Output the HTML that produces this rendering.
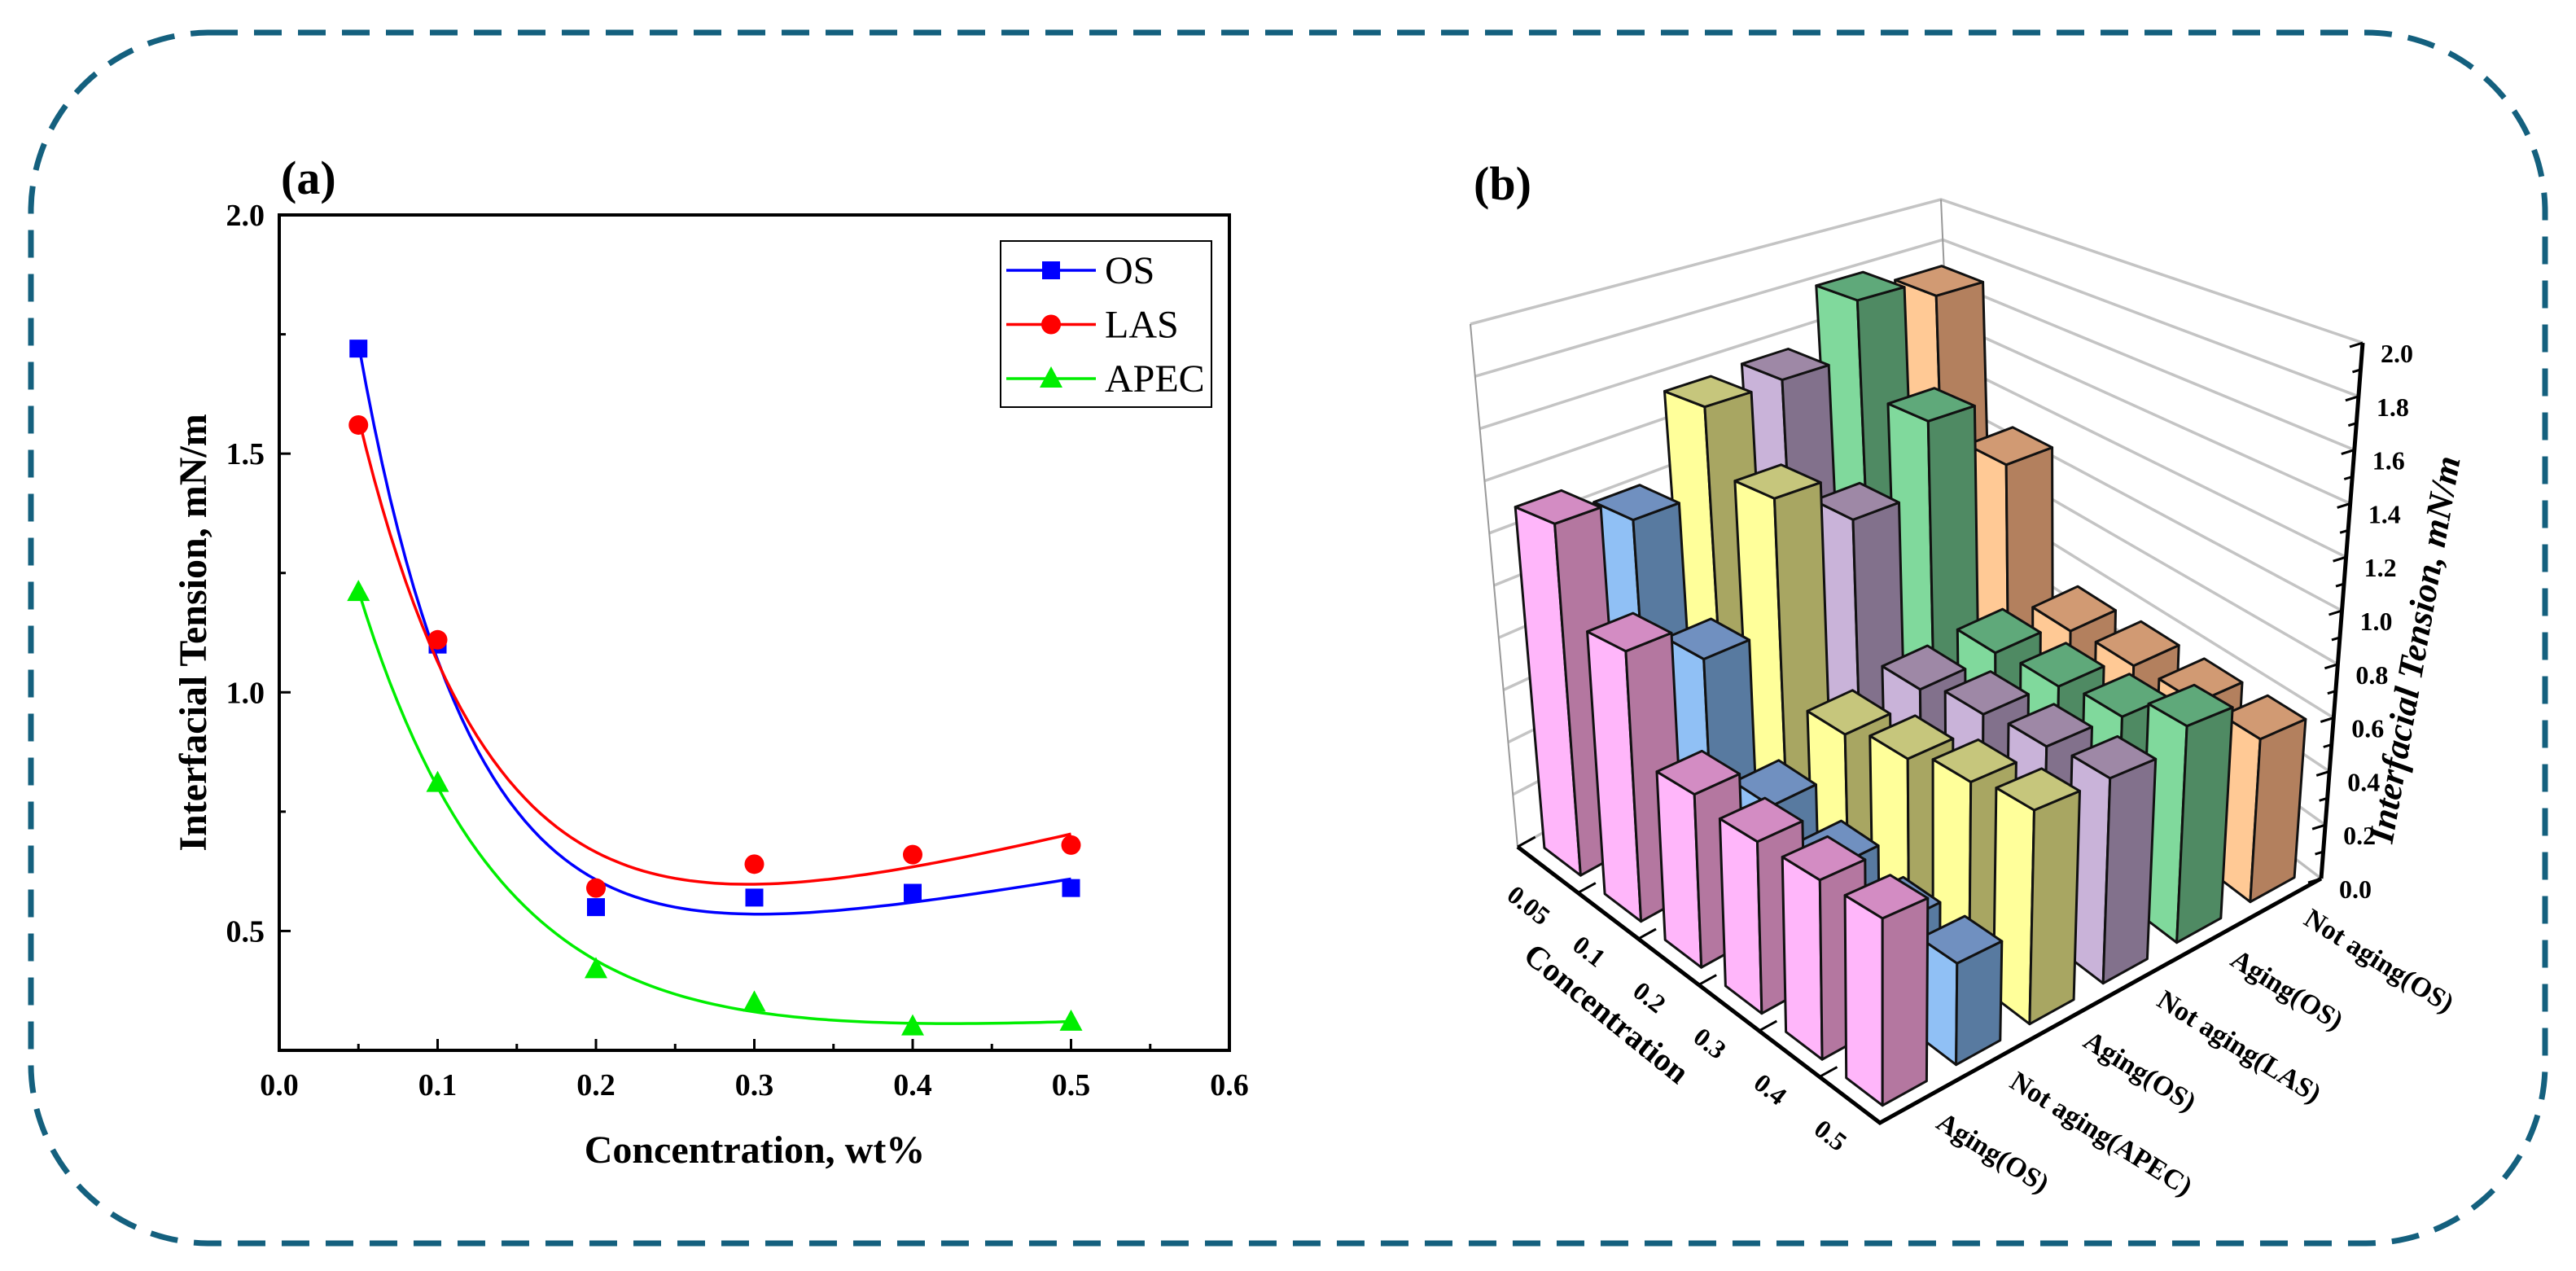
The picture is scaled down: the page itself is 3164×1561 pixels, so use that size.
<!DOCTYPE html>
<html><head><meta charset="utf-8"><style>
html,body{margin:0;padding:0;background:#fff;}
svg{display:block;}
text{font-family:"Liberation Serif",serif;}
</style></head><body>
<svg id="root" width="3164" height="1561" viewBox="0 0 3164 1561" xmlns="http://www.w3.org/2000/svg">
<rect x="38" y="40" width="3088" height="1487" rx="220" ry="220" fill="none" stroke="#14607e" stroke-width="7" stroke-dasharray="34 20"/>
<g id="chartA"></g>
<g id="chartB"></g>
</svg>
<script>
// ---------- Panel (a) data ----------
const concA = [0.05, 0.1, 0.2, 0.3, 0.4, 0.5];
const osVals = [1.72, 1.10, 0.55, 0.57, 0.58, 0.59];
const lasVals = [1.56, 1.11, 0.59, 0.64, 0.66, 0.68];
const apecVals = [1.21, 0.81, 0.42, 0.35, 0.30, 0.31];
const xTicksA = ["0.0","0.1","0.2","0.3","0.4","0.5","0.6"];
const yTicksA = ["0.5","1.0","1.5","2.0"];
const seriesNamesA = ["OS","LAS","APEC"];

// ---------- Panel (b) data ----------
const concB = ["0.05","0.1","0.2","0.3","0.4","0.5"];
const seriesB = ["Aging(OS)","Not aging(APEC)","Aging(OS)","Not aging(LAS)","Aging(OS)","Not aging(OS)"];
const agingOS1 = [1.30, 0.95, 0.58, 0.55, 0.55, 0.55];
const notAgingAPEC = [1.21, 0.81, 0.42, 0.35, 0.30, 0.31];
const agingOS2 = [1.55, 1.30, 0.55, 0.60, 0.65, 0.68];
const notAgingLAS = [1.56, 1.11, 0.59, 0.64, 0.66, 0.68];
const agingOS3 = [1.80, 1.40, 0.60, 0.62, 0.65, 0.75];
const notAgingOS = [1.72, 1.10, 0.55, 0.57, 0.58, 0.59];
const zTicksB = ["0.0","0.2","0.4","0.6","0.8","1.0","1.2","1.4","1.6","1.8","2.0"];

const NS = "http://www.w3.org/2000/svg";
function mk(tag, attrs, parent){
  const e = document.createElementNS(NS, tag);
  for (const k in attrs) e.setAttribute(k, attrs[k]);
  parent.appendChild(e);
  return e;
}

// ================= Panel A =================
(function(){
  const g = document.getElementById('chartA');
  const X0=343, X1=1510, Y0=264, Y1=1290;
  const xmin=0, xmax=0.6, ymin=0.25, ymax=2.0;
  const sx = v => X0 + (v-xmin)/(xmax-xmin)*(X1-X0);
  const sy = v => Y1 - (v-ymin)/(ymax-ymin)*(Y1-Y0);

  const lab = mk('text',{x:345,y:238,'font-size':58,'font-weight':'bold'},g);
  lab.textContent='(a)';
  
  

  const frame = mk('rect',{x:X0,y:Y0,width:X1-X0,height:Y1-Y0,fill:'none',stroke:'#000','stroke-width':4},g);
  
  

  for (let i=0;i<=12;i++){
    const v=i*0.05, x=sx(v), major=(i%2===0);
    const t=mk('line',{x1:x,y1:Y1,x2:x,y2:Y1-(major?14:8),stroke:'#000','stroke-width':3},g);
    
    
  }
  xTicksA.forEach(s=>{
    const t=mk('text',{x:sx(parseFloat(s)),y:1345,'font-size':38,'font-weight':'bold','text-anchor':'middle'},g);
    t.textContent=s;
    
    
  });
  for (let i=0;i<=7;i++){
    const v=0.25+i*0.25, y=sy(v), major=(i%2===1);
    const t=mk('line',{x1:X0,y1:y,x2:X0+(major?14:8),y2:y,stroke:'#000','stroke-width':3},g);
    
    
  }
  yTicksA.forEach(s=>{
    const t=mk('text',{x:325,y:sy(parseFloat(s))+13,'font-size':38,'font-weight':'bold','text-anchor':'end'},g);
    t.textContent=s;
    
    
  });
  const xt=mk('text',{x:927,y:1428,'font-size':48,'font-weight':'bold','text-anchor':'middle'},g);
  xt.textContent='Concentration, wt%';
  
  
  const yt=mk('text',{x:0,y:0,'font-size':48,'font-weight':'bold','text-anchor':'middle',transform:'translate(253,777) rotate(-90)'},g);
  yt.textContent='Interfacial Tension, mN/m';
  
  

  function solve3(A,b){
    const M=A.map((r,i)=>r.concat([b[i]]));
    for(let i=0;i<3;i++){
      let p=i; for(let r=i+1;r<3;r++) if(Math.abs(M[r][i])>Math.abs(M[p][i])) p=r;
      [M[i],M[p]]=[M[p],M[i]];
      for(let r=0;r<3;r++){ if(r===i) continue; const f=M[r][i]/M[i][i]; for(let c=i;c<4;c++) M[r][c]-=f*M[i][c]; }
    }
    return [M[0][3]/M[0][0],M[1][3]/M[1][1],M[2][3]/M[2][2]];
  }
  function fit(xs,ys){
    let best=null;
    for(let t=0.03;t<=0.2;t+=0.002){
      const AtA=[[0,0,0],[0,0,0],[0,0,0]], Atb=[0,0,0];
      xs.forEach((x,i)=>{
        const r=[1,Math.exp(-x/t),x];
        for(let a=0;a<3;a++){ Atb[a]+=r[a]*ys[i]; for(let b=0;b<3;b++) AtA[a][b]+=r[a]*r[b]; }
      });
      const p=solve3(AtA,Atb);
      let err=0; xs.forEach((x,i)=>{const d=p[0]+p[1]*Math.exp(-x/t)+p[2]*x-ys[i]; err+=d*d;});
      if(!best||err<best.err) best={err,p,t};
    }
    return x=>best.p[0]+best.p[1]*Math.exp(-x/best.t)+best.p[2]*x;
  }
  const series=[
    {vals:osVals,color:'#0000ff',marker:'square',name:'OS'},
    {vals:lasVals,color:'#ff0000',marker:'circle',name:'LAS'},
    {vals:apecVals,color:'#00ee00',marker:'triangle',name:'APEC'}
  ];
  function marker(type,x,y,color,parent){
    let m;
    if(type==='square') m=mk('rect',{x:x-11,y:y-11,width:22,height:22,fill:color},parent);
    else if(type==='circle') m=mk('circle',{cx:x,cy:y,r:12,fill:color},parent);
    else m=mk('polygon',{points:`${x},${y-15} ${x-14},${y+11} ${x+14},${y+11}`,fill:color},parent);
    return m;
  }
  series.forEach((s,si)=>{
    const f=fit(concA,s.vals);
    let d='';
    for(let x=0.05;x<=0.5001;x+=0.005){ d+=(d?'L':'M')+sx(x).toFixed(1)+','+sy(f(x)).toFixed(1); }
    const p=mk('path',{d,fill:'none',stroke:s.color,'stroke-width':3.5},g);
    
    
    concA.forEach((c,i)=>{
      const m=marker(s.marker,sx(c),sy(s.vals[i]),s.color,g);
      
      
    });
    const ly=332+si*66.5;
    const ll=mk('line',{x1:1236,y1:ly,x2:1346,y2:ly,stroke:s.color,'stroke-width':3.5},g);
    
    
    const lm=marker(s.marker,1291,ly,s.color,g);
    
    
    const lt=mk('text',{x:1357,y:ly+16,'font-size':48},g);
    lt.textContent=s.name;
    
    
  });
  const lb=mk('rect',{x:1229,y:296,width:259,height:204,fill:'none',stroke:'#000','stroke-width':2},g);
  
  
})();

// ================= Panel B =================
(function(){
  const g=document.getElementById('chartB');
  const valsB=[agingOS1,notAgingAPEC,agingOS2,notAgingLAS,agingOS3,notAgingOS];
  const colors=[
    ['#ffb6fa','#b477a0','#d38cc3'],
    ['#90c0f5','#587aa0','#7090c0'],
    ['#ffff9a','#a8a662','#c6c67c'],
    ['#c9b3d9','#82718c','#9e88a6'],
    ['#80d99c','#4f8a63','#5fa97a'],
    ['#ffc995','#b3805e','#d19a73']
  ];
  const FL={L:[1864,1040],F:[2309,1379],R:[2851,1079],B:[2406,740]};
  const TP={L:[1806,398],F:[2309,530],R:[2902,421],B:[2384,245]};
  const zmax=2.0;
  function bil(C,u,v){
    return [0,1].map(k=>(1-u)*(1-v)*C.L[k]+u*(1-v)*C.F[k]+u*v*C.R[k]+(1-u)*v*C.B[k]);
  }
  function P(u,v,val){
    const w=val/zmax, a=bil(FL,u,v), b=bil(TP,u,v);
    return [a[0]+(b[0]-a[0])*w, a[1]+(b[1]-a[1])*w];
  }
  const pts=arr=>arr.map(p=>p[0].toFixed(1)+','+p[1].toFixed(1)).join(' ');

  const lab=mk('text',{x:1810,y:245,'font-size':58,'font-weight':'bold'},g);
  lab.textContent='(b)';
  
  

  zTicksB.forEach(s=>{
    const z=parseFloat(s);
    const a=P(0,0,z), b=P(0,1,z), c=P(1,1,z);
    const gl=mk('polyline',{points:pts([a,b,c]),fill:'none',stroke:'#c4c4c4','stroke-width':3.5},g);
    
    
  });
  [[0,0],[0,1]].forEach(([u,v])=>{
    const a=P(u,v,0), b=P(u,v,zmax);
    const e=mk('line',{x1:a[0],y1:a[1],x2:b[0],y2:b[1],stroke:'#999','stroke-width':2},g);
    
    
  });
  {
    const a=P(0,1,0), b=P(0,0,0), c=P(1,1,0);
    const fl=mk('polyline',{points:pts([b,a,c]),fill:'none',stroke:'#bbb','stroke-width':2},g);
    
    
  }

  const n=concB.length, m=seriesB.length;
  const cells=[];
  for(let i=0;i<n;i++) for(let j=0;j<m;j++) cells.push([i,j]);
  cells.sort((p,q)=>(p[0]-p[1])-(q[0]-q[1]) || (q[1]-p[1]));
  const bw=0.6;
  cells.forEach(([i,j])=>{
    const val=valsB[j][i];
    const uc=(i+0.5)/n, vc=(j+0.5)/m;
    const u0=uc-bw/(2*n), u1=uc+bw/(2*n), v0=vc-bw/(2*m), v1=vc+bw/(2*m);
    const col=colors[j];
    const bg=mk('g',{},g);
    
    
    mk('polygon',{points:pts([P(u0,v0,0),P(u1,v0,0),P(u1,v0,val),P(u0,v0,val)]),fill:col[0],stroke:'#111','stroke-width':3,'stroke-linejoin':'round'},bg);
    mk('polygon',{points:pts([P(u1,v0,0),P(u1,v1,0),P(u1,v1,val),P(u1,v0,val)]),fill:col[1],stroke:'#111','stroke-width':3,'stroke-linejoin':'round'},bg);
    mk('polygon',{points:pts([P(u0,v0,val),P(u1,v0,val),P(u1,v1,val),P(u0,v1,val)]),fill:col[2],stroke:'#111','stroke-width':3,'stroke-linejoin':'round'},bg);
  });

  {
    const a=P(0,0,0), b=P(1,0,0), c=P(1,1,0);
    const ax=mk('polyline',{points:pts([a,b,c]),fill:'none',stroke:'#000','stroke-width':5},g);
    
    
    for(let i=0;i<=n;i++){
      const p=P(i/n,0,0), q=P(i/n,0.04,0);
      const t=mk('line',{x1:p[0],y1:p[1],x2:q[0],y2:q[1],stroke:'#000','stroke-width':3},g);
      
      
    }
    const za=P(1,1,0), zb=P(1,1,zmax);
    const zl=mk('line',{x1:za[0],y1:za[1],x2:zb[0],y2:zb[1],stroke:'#000','stroke-width':5},g);
    
    
  }
  concB.forEach((s,i)=>{
    const p=P((i+0.5)/n,0,0);
    const t=mk('text',{x:0,y:0,'font-size':32,'font-weight':'bold','text-anchor':'middle',transform:`translate(${(p[0]-30).toFixed(1)},${(p[1]+52).toFixed(1)}) rotate(38)`},g);
    t.textContent=s;
    
    
  });
  seriesB.forEach((s,j)=>{
    const p=P(1,(j+0.5)/m,0);
    const t=mk('text',{x:0,y:0,'font-size':34,'font-weight':'bold',transform:`translate(${(p[0]+22).toFixed(1)},${(p[1]+30).toFixed(1)}) rotate(32)`},g);
    t.textContent=s;
    
    
  });
  for(let k=0;k<=20;k++){
    const z=k*0.1, p=P(1,1,z), major=(k%2===0);
    const t=mk('line',{x1:p[0],y1:p[1],x2:p[0]-(major?16:10),y2:p[1]+(major?5:3),stroke:'#000','stroke-width':3},g);
    
    
  }
  zTicksB.forEach(s=>{
    const p=P(1,1,parseFloat(s));
    const t=mk('text',{x:p[0]+22,y:p[1]+24,'font-size':32,'font-weight':'bold'},g);
    t.textContent=s;
    
    
  });
  const zt=mk('text',{x:0,y:0,'font-size':44,'font-weight':'bold','font-style':'italic','text-anchor':'middle',transform:'translate(2980,800) rotate(-80)'},g);
  zt.textContent='Interfacial Tension, mN/m';
  
  
  const ct=mk('text',{x:0,y:0,'font-size':40,'font-weight':'bold','text-anchor':'middle',transform:'translate(1965,1255) rotate(39)'},g);
  ct.textContent='Concentration';
  
  
})();
</script>
</body></html>
